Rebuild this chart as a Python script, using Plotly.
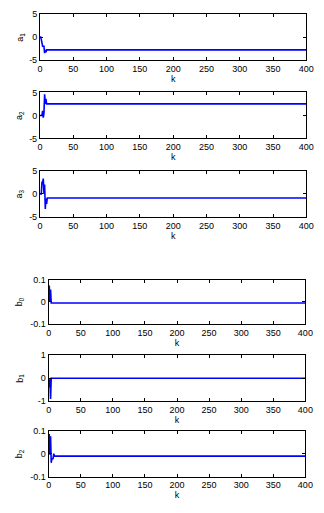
import plotly.graph_objects as go

# ---- data ----
k_a1 = [0, 1, 2, 3, 4, 5, 6, 7, 8, 9, 10, 400]
a1 = [0, 0, -0.5, -2, -2, -2, -2, -3.5, -2.8, -3.3, -2.8, -2.8]

k_a2 = [0, 1, 2, 3, 4, 5, 6, 7, 8, 9, 10, 400]
a2 = [0, 0, 0, 0, 1, -0.5, 0.5, 4.6, 2.5, 3.6, 2.5, 2.5]

k_a3 = [0, 1, 2, 3, 4, 5, 6, 7, 8, 9, 10, 11, 400]
a3 = [0, 0, 0, 2.5, 2.5, 3.3, 0, 2, -3.3, -1, -2.2, -0.9, -0.9]

k_b0 = [0, 1, 2, 3, 4, 5, 400]
b0 = [0, 0.073, 0, 0.055, -0.006, -0.006, -0.006]

k_b1 = [0, 1, 2, 3, 4, 5, 400]
b1 = [0, -0.4, -0.05, -0.9, 0.0, -0.005, -0.005]

k_b2 = [0, 1, 2, 3, 4, 5, 6, 7, 8, 9, 400]
b2 = [0, 0.085, -0.005, 0.075, -0.04, -0.02, -0.025, -0.02, 0, -0.011, -0.011]

x_ticks = [0, 50, 100, 150, 200, 250, 300, 350, 400]

panels = [
    (k_a1, a1, "a<sub>1</sub>", [-5, 5], [-5, 0, 5], ["-5", "0", "5"], (38, 314), (9, 56)),
    (k_a2, a2, "a<sub>2</sub>", [-5, 5], [-5, 0, 5], ["-5", "0", "5"], (38, 314), (89, 136)),
    (k_a3, a3, "a<sub>3</sub>", [-5, 5], [-5, 0, 5], ["-5", "0", "5"], (38, 314), (169, 216)),
    (k_b0, b0, "b<sub>0</sub>", [-0.1, 0.1], [-0.1, 0, 0.1], ["-0.1", "0", "0.1"], (47, 313), (280, 325)),
    (k_b1, b1, "b<sub>1</sub>", [-1, 1], [-1, 0, 1], ["-1", "0", "1"], (47, 313), (357, 404)),
    (k_b2, b2, "b<sub>2</sub>", [-0.1, 0.1], [-0.1, 0, 0.1], ["-0.1", "0", "0.1"], (47, 313), (434, 481)),
]

OFF = 8  # page body margin of the html page
W, H = 324 - OFF, 513 - OFF
FONT = dict(family="Liberation Sans, Arial, sans-serif", size=9, color="black")

fig = go.Figure()
layout = dict(
    width=W, height=H,
    margin=dict(l=0, r=0, t=0, b=0),
    paper_bgcolor="white", plot_bgcolor="white",
    showlegend=False, font=FONT,
)
annotations = []
for i, (kx, vals, lab, yr, yt, ytt, (x0, x1), (t, b)) in enumerate(panels):
    n = "" if i == 0 else str(i + 1)
    x0, x1, t, b = x0 - OFF, x1 - OFF, t - OFF, b - OFF
    fig.add_trace(go.Scatter(
        x=kx, y=vals, mode="lines",
        line=dict(color="#0000ff", width=1.6),
        xaxis="x" + n, yaxis="y" + n,
    ))
    common = dict(showline=True, linecolor="black", linewidth=1, mirror="ticks",
                  ticks="inside", ticklen=3, tickcolor="black", showgrid=False,
                  zeroline=False, tickfont=FONT)
    layout["xaxis" + n] = dict(
        domain=[x0 / W, x1 / W], range=[0, 400], tickvals=x_ticks,
        anchor="y" + n,
        title=dict(text="k", font=FONT, standoff=2),
        **common,
    )
    layout["yaxis" + n] = dict(
        domain=[1 - b / H, 1 - t / H], range=yr, tickvals=yt, ticktext=ytt,
        anchor="x" + n, **common,
    )
    annotations.append(dict(
        text=lab, xref="paper", yref="paper",
        x=(17 - OFF) / W, y=1 - ((t + b) / 2) / H,
        textangle=-90, showarrow=False, font=FONT,
        xanchor="center", yanchor="middle",
    ))
layout["annotations"] = annotations
fig.update_layout(**layout)
fig.write_html("out.html")
